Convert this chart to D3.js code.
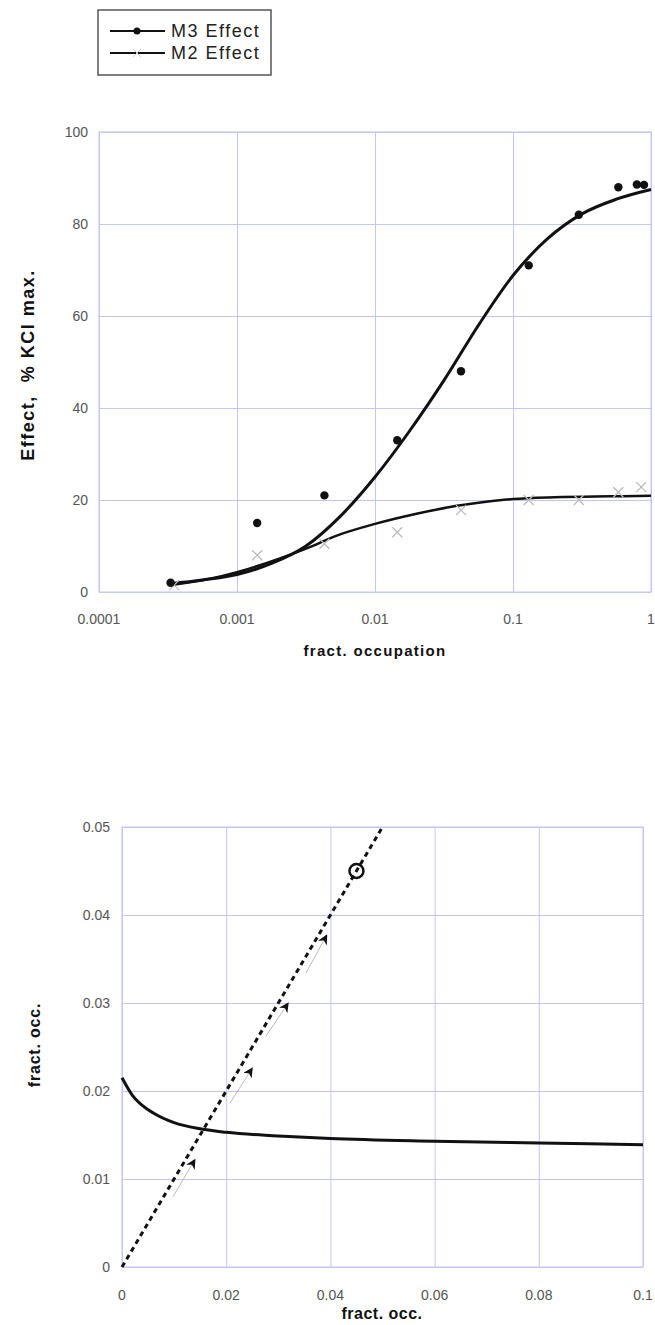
<!DOCTYPE html>
<html>
<head>
<meta charset="utf-8">
<script src="https://cdn.jsdelivr.net/npm/d3@7"></script>
<style>
  body { margin: 0; background: #fff; }
  svg { display: block; font-family: "Liberation Sans", Arial, sans-serif; }
</style>
</head>
<body>
<div id="chart"></div>
<script>
// top panel: effect vs fractional occupation (log x)
var m3Occ = [0.00033, 0.0014, 0.0043, 0.0145, 0.042, 0.13, 0.30, 0.58, 0.79, 0.89];
var m3Eff = [2, 15, 21, 33, 48, 71, 82, 88, 88.6, 88.5];
var m2Occ = [0.00035, 0.0014, 0.0043, 0.0145, 0.042, 0.13, 0.30, 0.58, 0.85];
var m2Eff = [1.5, 8, 10.5, 13, 17.8, 20, 20, 21.7, 22.8];

var m3FitOcc = [0.00033, 0.00056, 0.001, 0.00178, 0.00316, 0.00562, 0.01, 0.0178, 0.0316, 0.0562, 0.1, 0.178, 0.316, 0.562, 1];
var m3FitEff = [1.8, 2.6, 3.8, 6.2, 10, 16.5, 25, 35, 46, 58, 68.8, 76.8, 82.2, 85.4, 87.5];
var m2FitOcc = [0.00033, 0.0006, 0.001, 0.002, 0.0034, 0.005, 0.01, 0.02, 0.035, 0.06, 0.1, 0.2, 0.5, 1];
var m2FitEff = [1.5, 2.7, 4.3, 7.2, 9.8, 12, 14.8, 17, 18.5, 19.5, 20.2, 20.6, 20.8, 20.9];

var topXTicks = [0.0001, 0.001, 0.01, 0.1, 1];
var topXLabels = ["0.0001", "0.001", "0.01", "0.1", "1"];
var topYTicks = [0, 20, 40, 60, 80, 100];

// bottom panel: fract. occ. vs fract. occ.
var curveX = [0, 0.002, 0.004, 0.006, 0.01, 0.015, 0.02, 0.03, 0.04, 0.06, 0.08, 0.1];
var curveY = [0.0215, 0.0195, 0.0183, 0.0175, 0.0164, 0.0157, 0.0153, 0.0149, 0.0146, 0.0143, 0.0141, 0.0139];
var diagX = [0, 0.05];
var diagY = [0, 0.05];
var arrowX0 = [0.0098, 0.0207, 0.0276, 0.0353];
var arrowY0 = [0.008, 0.0186, 0.0262, 0.0334];
var arrowX1 = [0.014, 0.025, 0.0319, 0.0393];
var arrowY1 = [0.0122, 0.0226, 0.030, 0.0377];
var circleX = [0.045];
var circleY = [0.045];

var botXTicks = [0, 0.02, 0.04, 0.06, 0.08, 0.1];
var botXLabels = ["0", "0.02", "0.04", "0.06", "0.08", "0.1"];
var botYTicks = [0, 0.01, 0.02, 0.03, 0.04, 0.05];
var botYLabels = ["0", "0.01", "0.02", "0.03", "0.04", "0.05"];

var width = 655, height = 1325;
var gridColor = "#c4c4ff";
var labelColor = "#555";

var svg = d3.select("#chart").append("svg")
  .attr("width", width)
  .attr("height", height);

var defs = svg.append("defs");
defs.append("marker")
  .attr("id", "head")
  .attr("viewBox", "0 0 10 10")
  .attr("refX", 9).attr("refY", 5)
  .attr("markerWidth", 10).attr("markerHeight", 10)
  .attr("markerUnits", "userSpaceOnUse")
  .attr("orient", "auto")
  .append("path")
  .attr("d", "M0,0 L10,5 L0,10 L3,5 Z")
  .attr("fill", "#111");

// ---------- top panel ----------
var x1 = d3.scaleLog().domain([0.0001, 1]).range([99, 651]);
var y1 = d3.scaleLinear().domain([0, 100]).range([592, 132]);

var topG = svg.append("g");

topG.append("g")
  .attr("transform", "translate(0,592)")
  .call(d3.axisBottom(x1).tickValues(topXTicks).tickSize(-(592 - 132)).tickFormat(""))
  .call(function(g) {
    g.select(".domain").remove();
    g.selectAll("line").attr("stroke", gridColor);
  });

topG.append("g")
  .attr("transform", "translate(99,0)")
  .call(d3.axisLeft(y1).tickValues(topYTicks).tickSize(-(651 - 99)).tickFormat(""))
  .call(function(g) {
    g.select(".domain").remove();
    g.selectAll("line").attr("stroke", gridColor);
  });

topG.append("rect")
  .attr("x", 99).attr("y", 132)
  .attr("width", 651 - 99).attr("height", 592 - 132)
  .attr("fill", "none").attr("stroke", gridColor);

topG.selectAll(".ylab")
  .data(topYTicks)
  .enter().append("text")
  .attr("x", 88)
  .attr("y", function(d) { return y1(d) + 5; })
  .attr("text-anchor", "end")
  .attr("font-size", 14)
  .attr("fill", labelColor)
  .text(function(d) { return d; });

topG.selectAll(".xlab")
  .data(topXTicks)
  .enter().append("text")
  .attr("x", function(d) { return x1(d); })
  .attr("y", 624)
  .attr("text-anchor", "middle")
  .attr("font-size", 14)
  .attr("fill", labelColor)
  .text(function(d, i) { return topXLabels[i]; });

topG.append("text")
  .attr("x", 375).attr("y", 656)
  .attr("text-anchor", "middle")
  .attr("font-size", 15).attr("font-weight", "bold")
  .attr("letter-spacing", 1.3)
  .attr("fill", "#111")
  .text("fract. occupation");

topG.append("text")
  .attr("transform", "translate(34,365) rotate(-90)")
  .attr("text-anchor", "middle")
  .attr("font-size", 18).attr("font-weight", "bold")
  .attr("letter-spacing", 1.5)
  .attr("fill", "#111")
  .attr("xml:space", "preserve")
  .text("Effect,  % KCl max.");

var line1 = d3.line()
  .x(function(d) { return x1(d[0]); })
  .y(function(d) { return y1(d[1]); })
  .curve(d3.curveMonotoneX);

topG.append("path")
  .datum(d3.zip(m2FitOcc, m2FitEff))
  .attr("d", line1)
  .attr("fill", "none").attr("stroke", "#111").attr("stroke-width", 2.5);

topG.append("path")
  .datum(d3.zip(m3FitOcc, m3FitEff))
  .attr("d", line1)
  .attr("fill", "none").attr("stroke", "#111").attr("stroke-width", 3);

topG.selectAll(".m2")
  .data(d3.zip(m2Occ, m2Eff))
  .enter().append("path")
  .attr("transform", function(d) { return "translate(" + x1(d[0]) + "," + y1(d[1]) + ")"; })
  .attr("d", "M-5,-5L5,5M-5,5L5,-5")
  .attr("stroke", "#bbb").attr("stroke-width", 1.3).attr("fill", "none");

topG.selectAll(".m3")
  .data(d3.zip(m3Occ, m3Eff))
  .enter().append("circle")
  .attr("cx", function(d) { return x1(d[0]); })
  .attr("cy", function(d) { return y1(d[1]); })
  .attr("r", 4.2)
  .attr("fill", "#111");

// legend
var leg = svg.append("g");
leg.append("rect")
  .attr("x", 98).attr("y", 10).attr("width", 173).attr("height", 65)
  .attr("fill", "#fff").attr("stroke", "#555").attr("stroke-width", 1.5);
var legNames = ["M3 Effect", "M2 Effect"];
legNames.forEach(function(name, i) {
  var ly = 31 + i * 22;
  leg.append("line")
    .attr("x1", 110).attr("x2", 165).attr("y1", ly).attr("y2", ly)
    .attr("stroke", "#111").attr("stroke-width", 2);
  if (i === 0) {
    leg.append("circle").attr("cx", 137).attr("cy", ly).attr("r", 3.5).attr("fill", "#111");
  } else {
    leg.append("path")
      .attr("transform", "translate(137," + ly + ")")
      .attr("d", "M-4,-4L4,4M-4,4L4,-4")
      .attr("stroke", "#ccc").attr("stroke-width", 1);
  }
  leg.append("text")
    .attr("x", 171).attr("y", ly + 6)
    .attr("font-size", 18).attr("fill", "#222")
    .attr("letter-spacing", 1.5)
    .text(name);
});

// ---------- bottom panel ----------
var x2 = d3.scaleLinear().domain([0, 0.1]).range([122, 643]);
var y2 = d3.scaleLinear().domain([0, 0.05]).range([1267, 827]);

var botG = svg.append("g");

botG.append("g")
  .attr("transform", "translate(0,1267)")
  .call(d3.axisBottom(x2).tickValues(botXTicks).tickSize(-(1267 - 827)).tickFormat(""))
  .call(function(g) {
    g.select(".domain").remove();
    g.selectAll("line").attr("stroke", gridColor);
  });

botG.append("g")
  .attr("transform", "translate(122,0)")
  .call(d3.axisLeft(y2).tickValues(botYTicks).tickSize(-(643 - 122)).tickFormat(""))
  .call(function(g) {
    g.select(".domain").remove();
    g.selectAll("line").attr("stroke", gridColor);
  });

botG.append("rect")
  .attr("x", 122).attr("y", 827)
  .attr("width", 643 - 122).attr("height", 1267 - 827)
  .attr("fill", "none").attr("stroke", gridColor);

botG.selectAll(".ylab")
  .data(botYTicks)
  .enter().append("text")
  .attr("x", 110)
  .attr("y", function(d) { return y2(d) + 5; })
  .attr("text-anchor", "end")
  .attr("font-size", 14)
  .attr("fill", labelColor)
  .text(function(d, i) { return botYLabels[i]; });

botG.selectAll(".xlab")
  .data(botXTicks)
  .enter().append("text")
  .attr("x", function(d) { return x2(d); })
  .attr("y", 1300)
  .attr("text-anchor", "middle")
  .attr("font-size", 14)
  .attr("fill", labelColor)
  .text(function(d, i) { return botXLabels[i]; });

botG.append("text")
  .attr("x", 382).attr("y", 1319)
  .attr("text-anchor", "middle")
  .attr("font-size", 16).attr("font-weight", "bold")
  .attr("letter-spacing", 0.5)
  .attr("fill", "#111")
  .text("fract. occ.");

botG.append("text")
  .attr("transform", "translate(40,1045) rotate(-90)")
  .attr("text-anchor", "middle")
  .attr("font-size", 16).attr("font-weight", "bold")
  .attr("letter-spacing", 0.8)
  .attr("fill", "#111")
  .text("fract. occ.");

var line2 = d3.line()
  .x(function(d) { return x2(d[0]); })
  .y(function(d) { return y2(d[1]); });

botG.append("path")
  .datum(d3.zip(curveX, curveY))
  .attr("d", line2.curve(d3.curveMonotoneX))
  .attr("fill", "none").attr("stroke", "#111").attr("stroke-width", 3);

botG.append("path")
  .datum(d3.zip(diagX, diagY))
  .attr("d", d3.line().x(function(d) { return x2(d[0]); }).y(function(d) { return y2(d[1]); }))
  .attr("fill", "none").attr("stroke", "#111").attr("stroke-width", 3)
  .attr("stroke-dasharray", "5,4");

botG.selectAll(".arrow")
  .data(d3.range(arrowX0.length))
  .enter().append("line")
  .attr("x1", function(i) { return x2(arrowX0[i]); })
  .attr("y1", function(i) { return y2(arrowY0[i]); })
  .attr("x2", function(i) { return x2(arrowX1[i]); })
  .attr("y2", function(i) { return y2(arrowY1[i]); })
  .attr("stroke", "#bbb").attr("stroke-width", 1)
  .attr("marker-end", "url(#head)");

botG.selectAll(".pt")
  .data(d3.zip(circleX, circleY))
  .enter().append("circle")
  .attr("cx", function(d) { return x2(d[0]); })
  .attr("cy", function(d) { return y2(d[1]); })
  .attr("r", 7)
  .attr("fill", "none").attr("stroke", "#111").attr("stroke-width", 2.5);
</script>
</body>
</html>
